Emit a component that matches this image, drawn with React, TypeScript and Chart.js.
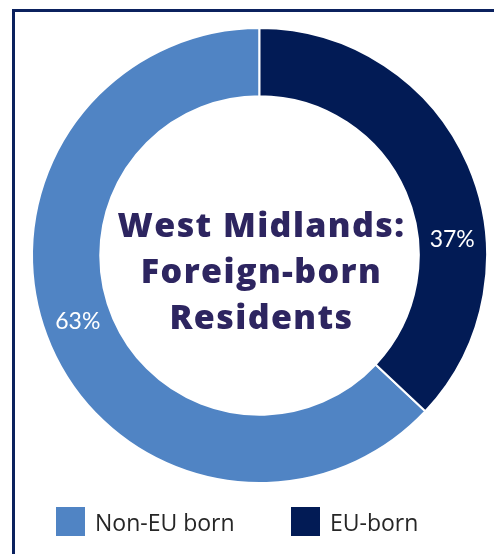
import React, { useEffect, useRef } from "react";
import { Chart, registerables } from "chart.js";

Chart.register(...registerables);

const categories = ["Non-EU born", "EU-born"];
const shares = [63, 37];
const valueLabels = ["63%", "37%"];
const titleLines = ["West Midlands:", "Foreign-born", "Residents"];
const colors = ["#5084C4", "#021B55"];
const NAVY_BORDER = "#0B215E";
const TITLE_COLOR = "#2D2560";

const total = shares.reduce((a, b) => a + b, 0);
// start so that the last slice begins at 12 o'clock
const rotationDeg = (360 * shares[shares.length - 1]) / total;

const centerPlugin = {
  id: "centerText",
  afterDatasetsDraw(chart: any, _args: any, opts: any) {
    const ctx = chart.ctx as CanvasRenderingContext2D;
    const arcs = chart.getDatasetMeta(0).data;
    if (!arcs.length) return;
    const cx = arcs[0].x;
    const cy = arcs[0].y;
    ctx.save();
    // title in the hole
    ctx.fillStyle = TITLE_COLOR;
    ctx.font = '800 34px "Open Sans"';
    (ctx as any).letterSpacing = "1.4px";
    ctx.textAlign = "center";
    ctx.textBaseline = "alphabetic";
    titleLines.forEach((line, i) => {
      ctx.fillText(line, cx + 2, cy - 18.5 + i * 46);
    });
    (ctx as any).letterSpacing = "0px";
    // value labels on the ring
    ctx.fillStyle = "#FFFFFF";
    ctx.font = '400 23px "Lato"';
    ctx.textBaseline = "middle";
    arcs.forEach((arc: any, i: number) => {
      const off = ((opts.angleOffsets?.[i] || 0) * Math.PI) / 180;
      const mid = (arc.startAngle + arc.endAngle) / 2 + off;
      const r = (arc.innerRadius + arc.outerRadius) / 2;
      ctx.fillText(valueLabels[i], cx + r * Math.cos(mid), cy + r * Math.sin(mid));
    });
    ctx.restore();
  },
};

export default function App() {
  const ref = useRef<HTMLCanvasElement | null>(null);

  useEffect(() => {
    if (!ref.current) return;
    const chart = new Chart(ref.current, {
      type: "doughnut",
      data: {
        labels: categories,
        datasets: [
          {
            data: shares,
            backgroundColor: colors,
            borderColor: "#FFFFFF",
            borderWidth: 2,
          },
        ],
      },
      options: {
        responsive: false,
        animation: false,
        cutout: "70%",
        rotation: rotationDeg,
        layout: { padding: { left: 31, right: 6, top: 27, bottom: 70 } },
        plugins: {
          legend: { display: false },
          tooltip: { enabled: false },
          centerText: { angleOffsets: [3.4, 18.6] },
        } as any,
      },
      plugins: [centerPlugin as any],
    });
    return () => chart.destroy();
  }, []);

  const legendPos = [56, 291];

  return (
    <div style={{ position: "absolute", left: 0, top: 0, width: 494, height: 554, background: "#fff", overflow: "hidden" }}>
      <div
        style={{
          position: "absolute",
          left: 12,
          top: 9,
          width: 494 - 12,
          height: 554 - 9,
          borderTop: `3px solid ${NAVY_BORDER}`,
          borderLeft: `3px solid ${NAVY_BORDER}`,
          boxSizing: "border-box",
        }}
      />
      <canvas
        ref={ref}
        width={494}
        height={554}
        style={{ position: "absolute", left: 0, top: 0, width: 494, height: 554 }}
      />
      {categories.map((c, i) => (
        <div
          key={c}
          style={{
            position: "absolute",
            left: legendPos[i],
            top: 507,
            height: 29,
            display: "flex",
            alignItems: "center",
            fontFamily: '"Open Sans", sans-serif',
            fontSize: 23,
            color: "#262626",
            whiteSpace: "nowrap",
          }}
        >
          <span style={{ display: "inline-block", width: 29, height: 29, background: colors[i], marginRight: 10 }} />
          <span>{c}</span>
        </div>
      ))}
    </div>
  );
}
